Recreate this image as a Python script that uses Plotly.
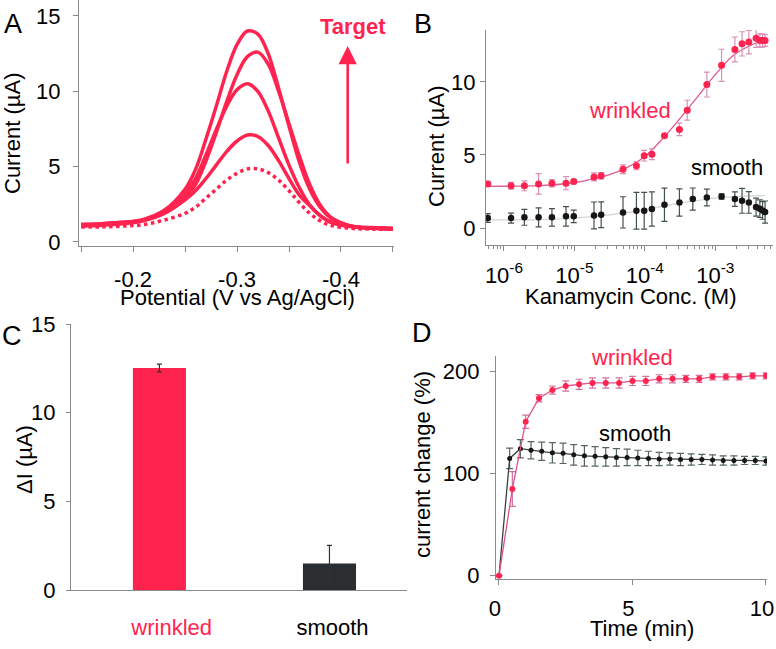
import plotly.graph_objects as go

W, H = 776, 649

def fx(p):
    return p / W

def fy(p):
    return 1 - p / H

RED = '#ff2450'
BLACK = '#161616'
AXIS = '#8a8a8a'
FONT = 'Liberation Sans, Arial, sans-serif'
FS = 22

# ---------------- Panel A : voltammograms ----------------
potential = [-0.15, -0.17, -0.19, -0.21, -0.23, -0.25, -0.26, -0.27, -0.28, -0.29,
             -0.30, -0.31, -0.32, -0.33, -0.34, -0.35, -0.36, -0.37, -0.38, -0.39,
             -0.41, -0.43, -0.45]
curve_1 = [1.15, 1.2, 1.3, 1.5, 2.1, 3.5, 4.8, 6.8, 9.0, 11.3, 13.1, 14.0, 13.8, 12.5,
           10.2, 7.7, 5.3, 3.5, 2.3, 1.6, 1.05, 0.92, 0.88]
curve_2 = [1.15, 1.2, 1.3, 1.45, 1.9, 2.9, 3.8, 5.35, 7.25, 9.3, 11.1, 12.3, 12.6, 11.8,
           10.0, 7.85, 5.7, 3.8, 2.45, 1.65, 1.05, 0.92, 0.88]
curve_3 = [1.1, 1.15, 1.25, 1.45, 2.0, 3.2, 4.2, 5.75, 7.45, 9.0, 10.1, 10.5, 10.0, 8.7,
           6.9, 5.1, 3.6, 2.45, 1.75, 1.3, 1.0, 0.9, 0.85]
curve_4 = [1.05, 1.1, 1.2, 1.4, 1.9, 2.8, 3.4, 4.2, 5.1, 6.0, 6.7, 7.1, 7.0, 6.4, 5.4,
           4.2, 3.1, 2.4, 1.75, 1.35, 1.05, 0.95, 0.9]
curve_blank = [1.0, 1.0, 1.05, 1.15, 1.45, 1.9, 2.3, 2.9, 3.5, 4.1, 4.55, 4.85, 4.85,
               4.6, 4.1, 3.4, 2.6, 1.9, 1.4, 1.1, 0.9, 0.85, 0.85]

# ---------------- Panel B : calibration ----------------
conc_wrinkled = [5.9e-7, 1.26e-6, 1.95e-6, 3.1e-6, 4.8e-6, 7.6e-6, 9.8e-6, 1.9e-5, 2.4e-5,
                 4.9e-5, 7.6e-5, 9.8e-5, 1.26e-4, 1.9e-4, 3.1e-4, 4.0e-4, 7.6e-4, 1.23e-3,
                 1.9e-3, 2.4e-3, 3.0e-3, 3.8e-3, 4.3e-3, 4.7e-3, 5.1e-3]
cur_wrinkled = [3.02, 2.89, 2.89, 3.02, 3.07, 3.07, 3.18, 3.5, 3.57, 4.02, 4.27, 4.95, 5.05,
                6.32, 6.75, 8.07, 9.82, 11.14, 12.23, 12.61, 12.73, 13.0, 12.84, 12.84, 12.84]
err_wrinkled = [0.17, 0.23, 0.34, 0.7, 0.25, 0.45, 0.16, 0.27, 0.23, 0.3, 0.28, 0.36, 0.37,
                0.1, 0.43, 0.68, 0.85, 1.1, 0.85, 0.83, 0.8, 0.63, 0.45, 0.45, 0.4]
conc_smooth = [5.9e-7, 1.26e-6, 1.95e-6, 3.1e-6, 4.8e-6, 7.6e-6, 9.8e-6, 1.9e-5, 2.4e-5,
               4.9e-5, 7.6e-5, 9.8e-5, 1.26e-4, 1.9e-4, 3.1e-4, 4.8e-4, 7.6e-4, 1.23e-3,
               1.9e-3, 2.4e-3, 3.0e-3, 3.8e-3, 4.3e-3, 4.7e-3, 5.1e-3]
cur_smooth = [0.68, 0.68, 0.73, 0.73, 0.73, 0.8, 0.8, 0.86, 0.91, 1.07, 1.18, 1.18, 1.3,
              1.59, 1.75, 1.98, 2.09, 2.16, 1.98, 1.86, 1.75, 1.43, 1.32, 1.2, 1.09]
err_smooth = [0.3, 0.34, 0.54, 0.65, 0.6, 0.67, 0.43, 0.92, 0.88, 1.07, 1.26, 1.26, 1.17,
              1.14, 0.93, 0.76, 0.57, 0.18, 0.5, 0.85, 0.74, 0.62, 0.6, 0.6, 0.76]
fit_conc = [5.56e-7, 1e-6, 3.16e-6, 1e-5, 1.78e-5, 3.16e-5, 5.62e-5, 1e-4, 1.78e-4,
            3.16e-4, 5.62e-4, 1e-3, 1.78e-3, 3.16e-3, 5.1e-3]
fit_wrinkled = [2.85, 2.86, 2.9, 3.1, 3.35, 3.65, 4.15, 4.9, 6.1, 7.5, 9.0, 10.5, 11.8,
                12.5, 12.85]
fit_conc_s = [5.56e-7, 1e-6, 3.16e-6, 1e-5, 3.16e-5, 1e-4, 3.16e-4, 1e-3, 3.16e-3, 5.1e-3]
fit_smooth = [0.55, 0.55, 0.58, 0.68, 0.9, 1.25, 1.7, 2.05, 2.2, 2.22]

# ---------------- Panel C : bar chart ----------------
bar_labels = ['wrinkled', 'smooth']
bar_values = [12.52, 1.5]
bar_errors = [0.22, 1.02]

# ---------------- Panel D : time response ----------------
time_wrinkled = [0, 0.5, 1.0, 1.5, 2.0, 2.5, 3.0, 3.5, 4.0, 4.5, 5.0, 5.5, 6.0, 6.5, 7.0,
                 7.5, 8.0, 8.5, 9.0, 9.5, 10.0]
chg_wrinkled = [0, 85, 151, 174, 182, 186, 187.6, 189, 189, 189, 191, 191, 193, 193, 193,
                193, 195, 195, 195, 196, 196]
chg_wrinkled_err = [0, 17, 6.5, 3.5, 4, 5, 5, 5, 5, 5, 4.5, 4.5, 4, 4, 3.5, 3.5, 3, 3, 3,
                    3, 3]
time_smooth = [0, 0.4, 0.8, 1.2, 1.6, 2.0, 2.4, 2.8, 3.2, 3.6, 4.0, 4.4, 4.8, 5.2, 5.6,
               6.0, 6.4, 6.8, 7.2, 7.6, 8.0, 8.4, 8.8, 9.2, 9.6, 10.0]
chg_smooth = [0, 115, 124.5, 123, 122, 120.5, 120, 118.5, 117.5, 117, 116.5, 116, 116,
              115.5, 115, 114.5, 114.5, 114, 114, 114, 113.5, 113, 113, 113, 113, 112.5]
chg_smooth_err = [0, 10, 9, 8.5, 9, 10, 10, 10, 10, 9.5, 9, 8.5, 8, 7.5, 7, 6.5, 6, 6,
                  5.5, 5, 5, 4.5, 4.5, 4, 4, 4]

fig = go.Figure()

# Panel A traces
for c in [curve_1, curve_2, curve_3, curve_4]:
    fig.add_trace(go.Scatter(x=potential, y=c, mode='lines', xaxis='x', yaxis='y',
                             line=dict(color=RED, width=3.5, shape='spline')))
fig.add_trace(go.Scatter(x=potential, y=curve_blank, mode='lines', xaxis='x', yaxis='y',
                         line=dict(color=RED, width=3.5, shape='spline', dash='dot')))

# Panel B traces
fig.add_trace(go.Scatter(x=fit_conc_s, y=fit_smooth, mode='lines', xaxis='x2', yaxis='y2',
                         line=dict(color='#cfd6d3', width=1.3, shape='spline')))
fig.add_trace(go.Scatter(x=fit_conc, y=fit_wrinkled, mode='lines', xaxis='x2', yaxis='y2',
                         line=dict(color='#e05a95', width=1.3, shape='spline')))
fig.add_trace(go.Scatter(x=conc_smooth, y=cur_smooth, mode='markers', xaxis='x2', yaxis='y2',
                         marker=dict(color=BLACK, size=6.5),
                         error_y=dict(type='data', array=err_smooth, color='#44524e',
                                      thickness=1.2, width=3)))
fig.add_trace(go.Scatter(x=conc_wrinkled, y=cur_wrinkled, mode='markers', xaxis='x2',
                         yaxis='y2', marker=dict(color=RED, size=7),
                         error_y=dict(type='data', array=err_wrinkled, color='#d890b5',
                                      thickness=1.2, width=3)))

# Panel C traces
fig.add_trace(go.Bar(x=[0, 1], y=bar_values, xaxis='x3', yaxis='y3', width=0.312,
                     marker=dict(color=[RED, '#2a2e30'], line=dict(width=0)),
                     error_y=dict(type='data', array=bar_errors, color='#333333',
                                  thickness=1.2, width=2.5)))

# Panel D traces
fig.add_trace(go.Scatter(x=time_smooth, y=chg_smooth, mode='lines+markers', xaxis='x4',
                         yaxis='y4', line=dict(color='#37423f', width=1.3),
                         marker=dict(color=BLACK, size=5),
                         error_y=dict(type='data', array=chg_smooth_err, color='#56645f',
                                      thickness=1.2, width=3.5)))
fig.add_trace(go.Scatter(x=time_wrinkled, y=chg_wrinkled, mode='lines+markers', xaxis='x4',
                         yaxis='y4', line=dict(color='#e0508f', width=1.3),
                         marker=dict(color=RED, size=6),
                         error_y=dict(type='data', array=chg_wrinkled_err, color='#d070a0',
                                      thickness=1.2, width=3.5)))

tickfont = dict(family=FONT, size=FS, color='black')
common = dict(showline=True, linecolor=AXIS, linewidth=1.2, ticks='outside', ticklen=5,
              tickcolor=AXIS, tickwidth=1.2, showgrid=False, zeroline=False,
              tickfont=tickfont, automargin=False, ticklabeloverflow='allow')

fig.update_layout(
    template='none',
    width=W, height=649, autosize=False,
    margin=dict(l=0, r=0, t=0, b=0, pad=0),
    paper_bgcolor='white', plot_bgcolor='white', showlegend=False,
    font=dict(family=FONT, size=FS, color='black'),
    xaxis=dict(domain=[fx(79), fx(394)], range=[-0.148, -0.451], anchor='y',
               tickvals=[-0.2, -0.3, -0.4], ticktext=['-0.2', '-0.3', '-0.4'],
               minor=dict(tickvals=[-0.15, -0.25, -0.35, -0.45], ticks='outside',
                          ticklen=5, tickcolor=AXIS, tickwidth=1.2),
               ticklabelstandoff=8, **common),
    yaxis=dict(domain=[fy(246), 1], range=[-0.27, 16.06], anchor='x',
               tickvals=[0, 5, 10, 15], ticklabelstandoff=8, **common),
    xaxis2=dict(domain=[fx(486), fx(773)], type='log', range=[-6.255, -2.18], anchor='y2',
                tickvals=[1e-6, 1e-5, 1e-4, 1e-3],
                ticktext=['10<sup>-6</sup>', '10<sup>-5</sup>', '10<sup>-4</sup>',
                          '10<sup>-3</sup>'],
                minor=dict(ticks='outside', ticklen=3, dtick='D1', tickcolor=AXIS,
                           tickwidth=1),
                ticklabelstandoff=5, **common),
    yaxis2=dict(domain=[fy(245), fy(30)], range=[-1.164, 13.56], anchor='x2',
                tickvals=[0, 5, 10], ticklabelstandoff=0, **common),
    xaxis3=dict(domain=[fx(71), fx(407)], range=[-0.52, 1.456], anchor='y3',
                tickvals=[0, 1],
                ticktext=["<span style='color:%s'>&nbsp;&nbsp;&nbsp;&nbsp;wrinkled</span>"
                          % RED,
                          "<span style='color:black'>&nbsp;smooth</span>"],
                showline=True, linecolor=AXIS, linewidth=1.2, ticks='', showgrid=False,
                zeroline=False, tickfont=tickfont, ticklabelstandoff=17,
                automargin=False),
    yaxis3=dict(domain=[fy(590), fy(324)], range=[0, 15], anchor='x3',
                tickvals=[0, 5, 10, 15], ticklabelstandoff=6,
                **{**common, 'ticklen': 4}),
    xaxis4=dict(domain=[fx(496), fx(767)], range=[-0.112, 10.04], anchor='y4',
                tickvals=[0, 5, 10], ticklabelstandoff=4, ticklabelshift=-4, **common),
    yaxis4=dict(domain=[fy(579), fy(356)], range=[-3.24, 215.4], anchor='x4',
                tickvals=[0, 100, 200], ticklabelstandoff=6, **common),
)

def note(text, x, y, size=FS, color='black', angle=0, bold=False):
    if bold:
        text = '<b>%s</b>' % text
    fig.add_annotation(text=text, x=fx(x), y=fy(y), xref='paper', yref='paper',
                       xanchor='center', yanchor='middle', showarrow=False,
                       textangle=angle, font=dict(family=FONT, size=size, color=color))

# panel letters
note('A', 13, 24, size=27)
note('B', 423, 24, size=27)
note('C', 12, 336, size=27)
note('D', 422, 333, size=27)

# axis titles
note('Current (µA)', 13, 134, angle=-90)
note('Potential (V vs Ag/AgCl)', 237, 297)
note('Current (µA)', 436, 147, angle=-90)
note('Kanamycin Conc. (M)', 631, 296)
note('ΔI (µA)', 24, 460, angle=-90)
note('current change (%)', 423, 464, angle=-90)
note('Time (min)', 642, 628)

# series labels
note('Target', 353, 26, color=RED, bold=True)
note('wrinkled', 630, 110, color=RED)
note('smooth', 727, 167)
note('wrinkled', 632, 357, color=RED)
note('smooth', 635, 433)

# arrow
fig.add_annotation(x=fx(347.7), y=fy(46), xref='paper', yref='paper', ax=0, ay=119,
                   axref='pixel', ayref='pixel', text='', showarrow=True, arrowhead=2,
                   arrowsize=1.4, arrowwidth=2.6, arrowcolor=RED)

fig.write_html('out.html', config={'displayModeBar': False},
               post_script="document.body.style.margin='0';"
                           "document.body.style.overflow='hidden';")
